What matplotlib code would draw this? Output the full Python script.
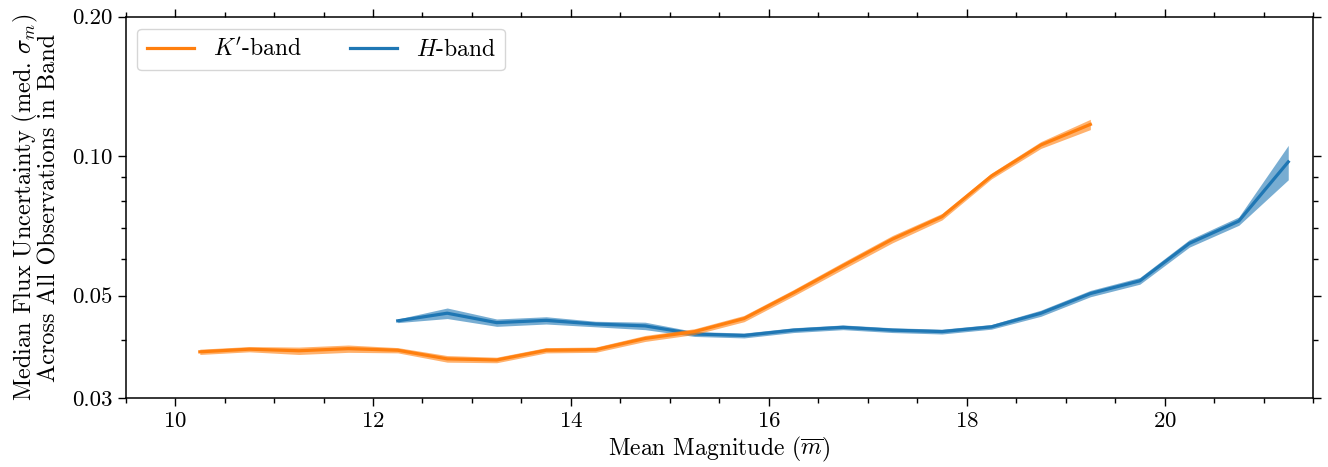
import matplotlib
matplotlib.use("Agg")
import matplotlib.pyplot as plt
import matplotlib.ticker as mticker
import numpy as np

plt.rcParams['font.family'] = ['cmr10', 'DejaVu Serif']
plt.rcParams['mathtext.fontset'] = 'cm'
plt.rcParams['axes.formatter.use_mathtext'] = True
plt.rcParams['axes.unicode_minus'] = False

# K'-band data
k_mag = [10.25, 10.75, 11.25, 11.75, 12.25, 12.75, 13.25, 13.75, 14.25, 14.75,
         15.25, 15.75, 16.25, 16.75, 17.25, 17.75, 18.25, 18.75, 19.25]
k_med = [0.0378, 0.0383, 0.0380, 0.0384, 0.0381, 0.0365, 0.0363, 0.0381, 0.0382, 0.0404,
         0.0418, 0.0446, 0.0507, 0.0580, 0.0662, 0.0740, 0.0906, 0.1057, 0.1171]
k_err = [0.0005, 0.0005, 0.0007, 0.0007, 0.0005, 0.0006, 0.0005, 0.0005, 0.0005, 0.0006,
         0.0006, 0.0007, 0.0008, 0.0010, 0.0012, 0.0012, 0.0013, 0.0018, 0.0030]

# H-band data
h_mag = [12.25, 12.75, 13.25, 13.75, 14.25, 14.75, 15.25, 15.75, 16.25, 16.75,
         17.25, 17.75, 18.25, 18.75, 19.25, 19.75, 20.25, 20.75, 21.25]
h_med = [0.0441, 0.0458, 0.0437, 0.0442, 0.0434, 0.0430, 0.0413, 0.0410, 0.0421, 0.0427,
         0.0421, 0.0418, 0.0428, 0.0458, 0.0505, 0.0538, 0.0648, 0.0724, 0.0972]
h_err = [0.0004, 0.0012, 0.0008, 0.0008, 0.0006, 0.0008, 0.0005, 0.0005, 0.0005, 0.0005,
         0.0005, 0.0005, 0.0005, 0.0007, 0.0008, 0.0009, 0.0012, 0.0015, 0.0083]

y_ticks = [0.03, 0.05, 0.10, 0.20]
y_ticklabels = ["0.03", "0.05", "0.10", "0.20"]

TICK_FS = 16.5
LEG_FS = 17
XL_FS = 17
YL_FS = 17.5

fig = plt.figure(figsize=(13.28, 4.67), dpi=100)
ax = fig.add_axes([0.0946, 0.1471, 0.8941, 0.8171])

km, ke = np.array(k_med), np.array(k_err)
hm, he = np.array(h_med), np.array(h_err)

ax.fill_between(k_mag, km - ke, km + ke, color='tab:orange', alpha=0.6, lw=0, zorder=3)
ax.plot(k_mag, k_med, color='tab:orange', lw=2.3, label="$K'$-band", zorder=4)
ax.fill_between(h_mag, hm - he, hm + he, color='tab:blue', alpha=0.6, lw=0, zorder=1)
ax.plot(h_mag, h_med, color='tab:blue', lw=2.3, label="$H$-band", zorder=2)

ax.set_yscale('log')
ax.set_ylim(0.03, 0.20)
ax.set_xlim(9.5, 21.5)
ax.set_yticks(y_ticks)
ax.set_yticklabels(y_ticklabels)
ax.yaxis.set_minor_locator(mticker.LogLocator(base=10, subs=np.arange(2, 10)))
ax.yaxis.set_minor_formatter(mticker.NullFormatter())
ax.xaxis.set_major_locator(mticker.MultipleLocator(2))
ax.xaxis.set_minor_locator(mticker.MultipleLocator(0.5))

ax.tick_params(which='both', direction='out', top=True, right=True,
               labelsize=TICK_FS, width=1.0)
ax.tick_params(which='major', length=6)
ax.tick_params(which='minor', length=3.5)
for s in ax.spines.values():
    s.set_linewidth(1.1)

ax.set_xlabel(r"Mean Magnitude ($\overline{m}$)", fontsize=XL_FS, labelpad=3)
ax.set_ylabel("Median Flux Uncertainty (med. $\\sigma_m$)\nAcross All Observations in Band",
              fontsize=YL_FS, linespacing=0.95, labelpad=8)

leg = ax.legend(loc='upper left', ncol=2, fontsize=LEG_FS, handlelength=2.0,
                columnspacing=2.0, borderaxespad=0.5, framealpha=0.8)

fig.savefig("out.png", dpi=100)
